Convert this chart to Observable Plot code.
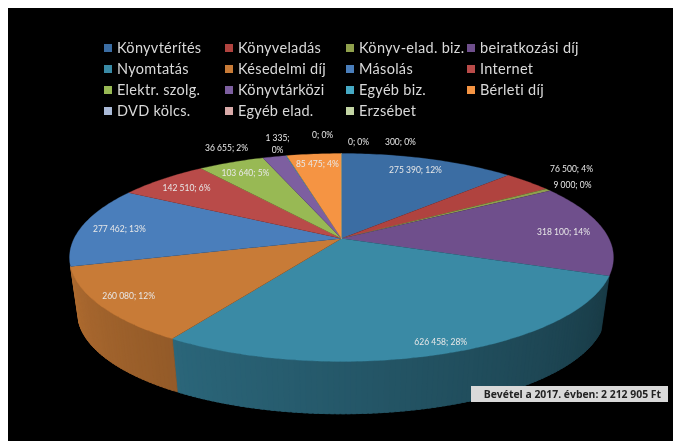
<!DOCTYPE html>
<html><head><meta charset="utf-8">
<script src="https://cdn.jsdelivr.net/npm/d3@7"></script>
<script src="https://cdn.jsdelivr.net/npm/@observablehq/plot@0.6"></script>
<style>
html,body{margin:0;padding:0;background:#fff;width:673px;height:441px;overflow:hidden}
#page{position:absolute;left:8px;top:8px;width:665px;height:433px;background:#000;font-family:Lato,"Open Sans",sans-serif;filter:blur(.35px)}
#legend{position:absolute;left:96px;top:29px;display:grid;grid-template-columns:repeat(4,121px);grid-auto-rows:21px;color:#d9d9d9;font-size:14.5px;letter-spacing:.3px}
#legend div{display:flex;align-items:center;white-space:nowrap}
#legend i{display:inline-block;width:8px;height:8px;margin-right:5px;flex:none}
#chart{position:absolute;left:0;top:117px}
#note{position:absolute;left:463px;top:378px;width:197px;height:16px;background:#d9d9d9;color:#222;font:bold 10.4px "Open Sans",sans-serif;line-height:16px;text-align:right;padding-right:7px;box-sizing:border-box;white-space:nowrap}
</style></head><body>
<div id="page"><div id="legend"></div><div id="chart"></div><div id="note">Bevétel a 2017. évben: 2 212 905 Ft</div></div>
<script>
const categories = ["Könyvtérítés","Könyveladás","Könyv-elad. biz.","beiratkozási díj","Nyomtatás","Késedelmi díj","Másolás","Internet","Elektr. szolg.","Könyvtárközi","Egyéb biz.","Bérleti díj","DVD kölcs.","Egyéb elad.","Erzsébet"];
const values = [275390,76500,9000,318100,626458,260080,277462,142510,103640,36655,1335,85475,0,0,300];
const percents = [12,4,0,14,28,12,13,6,5,2,0,4,0,0,0];
const colors = ["#3b6da3","#b0433f","#8fa04c","#6f4f8c","#3a8aa5","#c87b37","#4a7ebb","#b94b49","#98b954","#7d5fa0","#46aac5","#f59443","#aabad7","#d9aaa9","#c3d5a4"];
// label anchor in pie polar terms: angle (deg clockwise from top) and radius fraction
const labelAngle = [21.95,51,58.1,85.2,160.1,234.5,276.8,311.2,331.3,334.6,345.8,353.1,356.1,3.77,12.87];
const labelRadius = [.846,1.268,1.128,.844,.918,.886,.852,.849,.85,1.201,1.179,.87,1.279,1.174,1.202];

// perspective view of the disc
const k=.1827, cx=341;
const project=(r,deg,s,y0)=>{const t=deg*Math.PI/180,u=r*Math.sin(t),v=r*Math.cos(t),w=1+k*v;return {x:cx+s*267.4*u/w,y:y0-s*100.5*v/w};};
const topP=(r,d)=>project(r,d,1,238), botP=(r,d)=>project(r,d,.97,294);

const total=d3.sum(values);
let cum=0;
const slices=values.map((v,i)=>{const a0=cum/total*360;cum+=v;return {i,a0,a1:cum/total*360,color:colors[i]};});
const shade=d=>.42+(d-110)/145*.45;
// the rim only shows between the two ends of the disc's front: Nyomtatás and Késedelmi díj
const sideFrom=slices[4].a0, sideTo=slices[5].a1;

const topPts=[], sidePts=[];
for(const s of slices){
  if(s.a1<=s.a0) continue;
  topPts.push({id:s.i,fill:s.color,...topP(0,0)});
  const n=Math.max(2,Math.ceil(s.a1-s.a0));
  for(let j=0;j<=n;j++) topPts.push({id:s.i,fill:s.color,...topP(1,s.a0+(s.a1-s.a0)*j/n)});
  for(let j=0;j<n;j++){
    const d0=s.a0+(s.a1-s.a0)*j/n,d1=s.a0+(s.a1-s.a0)*(j+1)/n;
    if(d0<sideFrom||d1>sideTo) continue;
    const c=d3.rgb(s.color),f=shade((d0+d1)/2);
    const fill=d3.rgb(c.r*f,c.g*f,c.b*f).formatHex();
    const id=s.i+"-"+j, e=Math.min(d1+.6,s.a1);
    for(const p of [topP(1,d0),topP(1,e),botP(1,e),botP(1,d0),topP(1,d0)]) sidePts.push({id,fill,...p});
  }
}
const fmt=v=>String(v).replace(/\B(?=(\d{3})+$)/g," ");
const labels=values.map((v,i)=>({...topP(labelRadius[i],labelAngle[i]),
  text:i===10?`${fmt(v)};\n${percents[i]}%`:`${fmt(v)}; ${percents[i]}%`}));

d3.select("#legend").selectAll("div").data(categories).join("div")
  .html((d,i)=>`<i style="background:${colors[i]}"></i>${d}`);

const plot=Plot.plot({
  width:665,height:316,margin:0,
  x:{domain:[8,673],range:[0,665],axis:null},
  y:{domain:[125,441],range:[0,316],axis:null},
  color:{type:"identity"},
  style:{background:"#000",display:"block"},
  marks:[
    Plot.line(sidePts,{x:"x",y:"y",z:"id",fill:"fill",stroke:"fill",strokeWidth:.8}),
    Plot.line(topPts,{x:"x",y:"y",z:"id",fill:"fill",stroke:"fill",strokeWidth:.3}),
    Plot.text(labels,{x:"x",y:"y",text:"text",fill:"#e8e8e8",fontSize:8.5,fontFamily:"Lato",lineHeight:1.35})
  ]
});
document.getElementById("chart").append(plot);
</script>
</body></html>
